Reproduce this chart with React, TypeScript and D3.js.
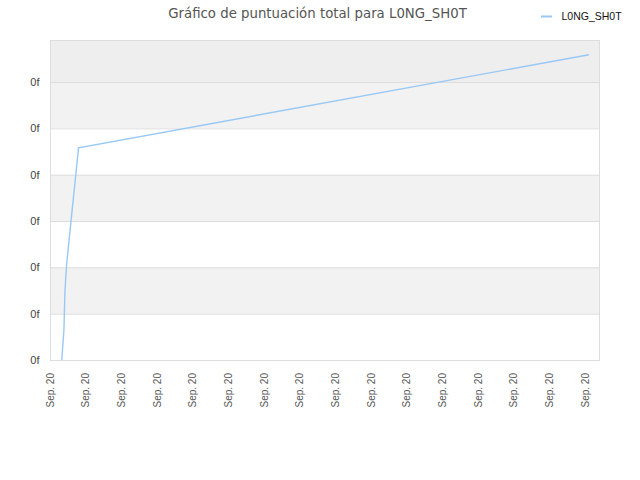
import React from "react";
import * as d3 from "d3";

const title = "Gráfico de puntuación total para L0NG_SH0T";
const seriesName = "L0NG_SH0T";
// x positions expressed in tick-index units (16 ticks, all labelled "Sep. 20")
const pointX = [0.33, 0.39, 0.42, 0.47, 0.8, 15.11];
const pointY = [0, 0.65, 1.5, 2.1, 4.58, 6.59];
const xTickLabels = Array.from({ length: 16 }, () => "Sep. 20");
const yTickLabels = ["0f", "0f", "0f", "0f", "0f", "0f", "0f"];

export default function App() {
  const W = 640, H = 480;
  const L = 50, R = 600, T = 40, B = 360;
  const x = d3.scaleLinear().domain([0, 15.42]).range([L, R]);
  const y = d3.scaleLinear().domain([0, 6.907]).range([B, T]);
  const line = d3
    .line<number>()
    .x((_, i) => x(pointX[i]))
    .y((d) => y(d));
  const yTicks = yTickLabels.map((_, i) => i);
  const bands: { y0: number; y1: number; fill: string }[] = [];
  for (let i = 0; i < 7; i++) {
    const top = i === 6 ? T : y(i + 1);
    const fill = i === 6 ? "#eeeeee" : i % 2 === 1 ? "#f2f2f2" : "#ffffff";
    bands.push({ y0: top, y1: y(i), fill });
  }
  return (
    <svg width={W} height={H} style={{ position: "absolute", left: 0, top: 0 }}>
      <rect x={0} y={0} width={W} height={H} fill="#fff" />
      {bands.map((b, i) => (
        <rect key={i} x={L} y={b.y0} width={R - L} height={b.y1 - b.y0} fill={b.fill} />
      ))}
      {yTicks.map((t) => (
        <line key={t} x1={L} x2={R} y1={y(t) + 0.5} y2={y(t) + 0.5} stroke="#dddddd" />
      ))}
      <rect x={L + 0.5} y={T + 0.5} width={R - L - 1} height={B - T} fill="none" stroke="#dddddd" />
      {yTicks.map((t) => (
        <text
          key={t}
          x={39.5}
          y={y(t) + 4}
          textAnchor="end"
          fontFamily="Liberation Sans, Arial, sans-serif"
          fontSize={11}
          fill="#444"
        >
          {yTickLabels[t]}
        </text>
      ))}
      {xTickLabels.map((lab, i) => (
        <text
          key={i}
          transform={`translate(${x(i) + 3.5},${B + 13}) rotate(-90)`}
          textAnchor="end"
          fontFamily="Liberation Sans, Arial, sans-serif"
          fontSize={10}
          fill="#555"
        >
          {lab}
        </text>
      ))}
      <path d={line(pointY) || ""} fill="none" stroke="#99c8f5" strokeWidth={1.4} />
      <text
        x={317.5}
        y={18}
        textAnchor="middle"
        fontFamily="DejaVu Sans, sans-serif"
        fontSize={13.3}
        fill="#555"
      >
        {title}
      </text>
      <line x1={541} x2={552} y1={16.5} y2={16.5} stroke="#99c8f5" strokeWidth={2} />
      <text x={561.5} y={20} fontFamily="Liberation Sans, Arial, sans-serif" fontSize={10.5} fill="#111">
        {seriesName}
      </text>
    </svg>
  );
}
